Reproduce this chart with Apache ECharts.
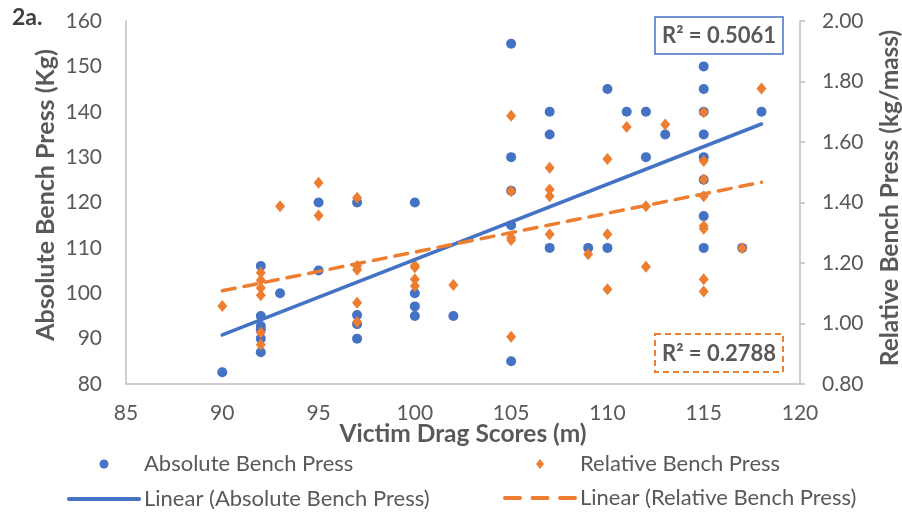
<!DOCTYPE html>
<html>
<head>
<meta charset="utf-8">
<script src="https://cdn.jsdelivr.net/npm/echarts@6/dist/echarts.min.js"></script>
<style>
  html, body { margin: 0; padding: 0; background: #ffffff; }
  #chart { width: 902px; height: 513px; }
</style>
</head>
<body>
<div id="chart"></div>
<script>
// ---- Data ----
const dragAbs = [90, 92, 92, 92, 92, 92, 92, 93, 95, 95, 97, 97, 97, 97, 100, 100, 100, 100, 102,
  105, 105, 105, 105, 105, 107, 107, 107, 109, 110, 110, 111, 112, 112, 113,
  115, 115, 115, 115, 115, 115, 115, 115, 117, 118];
const absBench = [82.6, 106, 95, 92.8, 92, 90, 87, 100, 120, 105, 120, 95.2, 93.2, 90, 120, 100, 97.1, 95, 95,
  155, 130, 122.6, 115, 85, 140, 135, 110, 110, 145, 110, 140, 140, 130, 135,
  150, 145, 140, 135, 130, 125, 117, 110, 110, 140];

const dragRel = [90, 92, 92, 92, 92, 92, 92, 93, 95, 95, 97, 97, 97, 97, 97, 100, 100, 100, 100, 102,
  105, 105, 105, 105, 105, 107, 107, 107, 107, 109, 110, 110, 110, 111, 112, 112, 113,
  115, 115, 115, 115, 115, 115, 115, 115, 117, 118];
const relBench = [1.058, 1.168, 1.143, 1.117, 1.093, 0.97, 0.93, 1.388, 1.465, 1.357, 1.416, 1.19, 1.178, 1.069, 1.005,
  1.192, 1.186, 1.146, 1.124, 1.127,
  1.687, 1.437, 1.284, 1.276, 0.956, 1.515, 1.443, 1.421, 1.295, 1.229, 1.544, 1.295, 1.113, 1.65, 1.388, 1.188, 1.658,
  1.698, 1.537, 1.476, 1.421, 1.322, 1.313, 1.146, 1.106, 1.249, 1.777];

// trendline end points (as drawn in the reference)
const trendX = [90, 118];
const absTrendY = [90.8, 137.3];
const relTrendY = [1.108, 1.467];

const xTicks = [85, 90, 95, 100, 105, 110, 115, 120];
const leftTicks = [80, 90, 100, 110, 120, 130, 140, 150, 160];
const rightTicks = [0.8, 1.0, 1.2, 1.4, 1.6, 1.8, 2.0];

const absR2 = 'R² = 0.5061';
const relR2 = 'R² = 0.2788';

// ---- Build ----
const zip = (xs, ys) => xs.map((x, i) => [x, ys[i]]);
const FONT = 'Lato, "Open Sans", sans-serif';
const GREY = '#595959';
const BLUE = '#4472C4';
const ORANGE = '#ED7D31';
const AXISLINE = { show: true, lineStyle: { color: '#BFBFBF', width: 1.5 } };
const legendText = { fontFamily: FONT, fontSize: 22, color: GREY, lineHeight: 22 };
const DIAMOND_ICON = 'path://M0,-10L8,0L0,10L-8,0Z';

const chart = echarts.init(document.getElementById('chart'), null, { renderer: 'canvas' });
chart.setOption({
  animation: false,
  backgroundColor: '#ffffff',
  title: {
    text: '2a.', left: 12, top: 6, padding: 0,
    textStyle: { fontFamily: FONT, fontWeight: 'bold', fontSize: 23, color: '#404040' }
  },
  grid: { left: 126, right: 102, top: 21, bottom: 129, containLabel: false, outerBoundsMode: 'none' },
  xAxis: {
    type: 'value', min: xTicks[0], max: xTicks[xTicks.length - 1], interval: 5,
    name: 'Victim Drag Scores (m)', nameLocation: 'middle', nameGap: 38, nameMoveOverlap: false,
    nameTextStyle: { fontFamily: FONT, fontWeight: 'bold', fontSize: 24.5, color: GREY },
    axisLine: AXISLINE, axisTick: { show: false }, splitLine: { show: false },
    axisLabel: { fontFamily: FONT, fontSize: 21, color: GREY, margin: 19 }
  },
  yAxis: [
    {
      type: 'value', min: leftTicks[0], max: leftTicks[leftTicks.length - 1], interval: 10,
      name: 'Absolute Bench Press (Kg)', nameLocation: 'middle', nameGap: 68, nameRotate: 90, nameMoveOverlap: false,
      nameTextStyle: { fontFamily: FONT, fontWeight: 'bold', fontSize: 25, color: GREY, padding: [0, 0, 0, 15] },
      axisLine: AXISLINE, axisTick: { show: false }, splitLine: { show: false },
      axisLabel: { fontFamily: FONT, fontSize: 21, color: GREY, margin: 24 }
    },
    {
      type: 'value', position: 'right', min: rightTicks[0], max: rightTicks[rightTicks.length - 1], interval: 0.2,
      name: 'Relative Bench Press (kg/mass)', nameLocation: 'middle', nameGap: 78, nameRotate: 90, nameMoveOverlap: false,
      nameTextStyle: { fontFamily: FONT, fontWeight: 'bold', fontSize: 24.5, color: GREY, padding: [0, 0, 0, 9] },
      axisLine: AXISLINE, axisTick: { show: true, inside: false, length: 5, lineStyle: { color: '#BFBFBF', width: 1.5 } },
      splitLine: { show: false },
      axisLabel: { fontFamily: FONT, fontSize: 21, color: GREY, margin: 22, formatter: v => v.toFixed(2) }
    }
  ],
  legend: [
    {
      left: 67, top: 453, orient: 'vertical', padding: 0, height: 60, itemWidth: 70, itemHeight: 9, itemGap: 13,
      selectedMode: false, textStyle: legendText, symbolKeepAspect: true,
      lineStyle: { width: 4 },
      data: [{ name: 'Absolute Bench Press', icon: 'circle' },
             { name: 'Linear (Absolute Bench Press)', itemStyle: { opacity: 0 } }]
    },
    {
      left: 503, top: 453, orient: 'vertical', padding: 0, height: 60, itemWidth: 70, itemHeight: 10, itemGap: 12,
      selectedMode: false, textStyle: legendText, symbolKeepAspect: true,
      lineStyle: { width: 4, type: [15, 12.5] },
      data: [{ name: 'Relative Bench Press', icon: DIAMOND_ICON },
             { name: 'Linear (Relative Bench Press)', itemStyle: { opacity: 0 } }]
    }
  ],
  series: [
    {
      name: 'Absolute Bench Press', type: 'scatter', yAxisIndex: 0,
      symbol: 'circle', symbolSize: 10, itemStyle: { color: BLUE, opacity: 1 },
      data: zip(dragAbs, absBench), z: 2
    },
    {
      name: 'Relative Bench Press', type: 'scatter', yAxisIndex: 1,
      symbol: 'diamond', symbolSize: [10, 12], itemStyle: { color: ORANGE, opacity: 1 },
      data: zip(dragRel, relBench), z: 3
    },
    {
      name: 'Linear (Absolute Bench Press)', type: 'line', yAxisIndex: 0,
      symbol: 'none', showSymbol: false, silent: true,
      lineStyle: { color: BLUE, width: 3.5, cap: 'round' }, itemStyle: { color: BLUE },
      data: zip(trendX, absTrendY), z: 4
    },
    {
      name: 'Linear (Relative Bench Press)', type: 'line', yAxisIndex: 1,
      symbol: 'none', showSymbol: false, silent: true,
      lineStyle: { color: ORANGE, width: 3.5, type: [13, 9], cap: 'round' }, itemStyle: { color: ORANGE },
      data: zip(trendX, relTrendY), z: 5
    }
  ],
  graphic: [
    { type: 'rect', z: 100, shape: { x: 655, y: 17, width: 128, height: 37 },
      style: { fill: '#ffffff', stroke: BLUE, lineWidth: 1.5 } },
    { type: 'text', z: 101, x: 719, y: 36,
      style: { text: absR2, fontFamily: FONT, fontWeight: 'bold', fontSize: 22, fill: GREY, align: 'center', verticalAlign: 'middle' } },
    { type: 'rect', z: 100, shape: { x: 655, y: 334, width: 128, height: 38 },
      style: { fill: '#ffffff', stroke: ORANGE, lineWidth: 2, lineDash: [6, 4] } },
    { type: 'text', z: 101, x: 719, y: 354,
      style: { text: relR2, fontFamily: FONT, fontWeight: 'bold', fontSize: 22, fill: GREY, align: 'center', verticalAlign: 'middle' } }
  ]
});
</script>
</body>
</html>
